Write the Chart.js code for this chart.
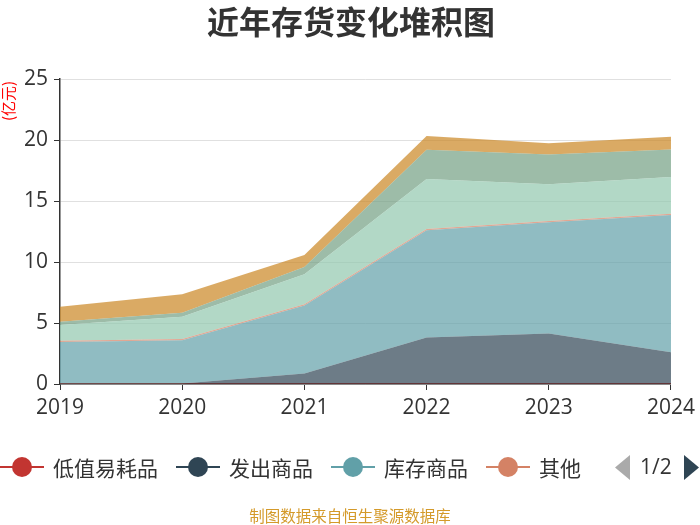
<!DOCTYPE html>
<html lang="zh">

<head>
  <meta charset="UTF-8">
  <title>近年存货变化堆积图</title>
  <script src="https://cdn.jsdelivr.net/npm/chart.js"></script>
  <style>
    body { margin: 0; background: #fff; }
    #wrap { width: 700px; height: 525px; position: relative; }
  </style>
</head>

<body>
  <div id="wrap">
    <canvas id="graphique" width="700" height="525"></canvas>
  </div>

  <script>
    // données (亿元)
    const annees = ['2019', '2020', '2021', '2022', '2023', '2024'];
    const diZhi = [0.05, 0.05, 0.05, 0.05, 0.05, 0.05];          // 低值易耗品
    const faChu = [0, 0, 0.82, 3.77, 4.08, 2.55];                 // 发出商品
    const kuCun = [3.4, 3.54, 5.56, 8.78, 9.13, 11.26];           // 库存商品
    const qiTa = [0.1, 0.1, 0.1, 0.1, 0.1, 0.1];                  // 其他
    const yuanCai = [1.29, 1.83, 2.46, 4.1, 3.01, 3.01];          // 原材料
    const zaiChan = [0.26, 0.33, 0.61, 2.4, 2.45, 2.26];          // 在产品
    const weiTuo = [1.24, 1.5, 0.97, 1.13, 0.91, 1.04];           // 委托加工物资
    const yTicks = [0, 5, 10, 15, 20, 25];

    const police = "'Noto Sans CJK SC', 'Noto Sans', sans-serif";
    const chiffres = "'Open Sans', 'Noto Sans', sans-serif";

    const series = [
      { label: '低值易耗品', data: diZhi, color: [194, 53, 49] },
      { label: '发出商品', data: faChu, color: [47, 69, 84] },
      { label: '库存商品', data: kuCun, color: [97, 160, 168] },
      { label: '其他', data: qiTa, color: [212, 130, 101] },
      { label: '原材料', data: yuanCai, color: [145, 199, 174] },
      { label: '在产品', data: zaiChan, color: [116, 159, 131] },
      { label: '委托加工物资', data: weiTuo, color: [202, 134, 34] }
    ];

    const rgba = (c, a) => `rgba(${c[0]},${c[1]},${c[2]},${a})`;

    const datasets = series.map((s, i) => ({
      label: s.label,
      data: s.data,
      backgroundColor: rgba(s.color, 0.7),
      borderColor: rgba(s.color, 1),
      borderWidth: 0,
      pointRadius: 0,
      tension: 0,
      fill: i === 0 ? 'origin' : '-1'
    }));

    // titre, unité, légende et source
    const decor = {
      id: 'decor',
      afterDraw(chart) {
        const c = chart.ctx;
        c.save();

        c.fillStyle = '#333';
        c.font = `bold 32px ${police}`;
        c.textAlign = 'center';
        c.textBaseline = 'middle';
        c.fillText('近年存货变化堆积图', 351, 22);

        c.save();
        c.translate(8, 101);
        c.rotate(-Math.PI / 2);
        c.fillStyle = '#ff0000';
        c.font = `15px ${police}`;
        c.fillText('(亿元)', 0, 0);
        c.restore();

        // légende page 1
        const items = [
          { x: 0, s: series[0] },
          { x: 176, s: series[1] },
          { x: 331, s: series[2] },
          { x: 486, s: series[3] }
        ];
        const ly = 467;
        c.textAlign = 'left';
        c.font = `21px ${police}`;
        items.forEach(it => {
          const col = rgba(it.s.color, 1);
          c.strokeStyle = col;
          c.lineWidth = 2;
          c.beginPath();
          c.moveTo(it.x, ly);
          c.lineTo(it.x + 44, ly);
          c.stroke();
          c.fillStyle = col;
          c.beginPath();
          c.arc(it.x + 22, ly, 10, 0, Math.PI * 2);
          c.fill();
          c.fillStyle = '#333';
          c.fillText(it.s.label, it.x + 53, ly + 1);
        });

        // pagination
        c.fillStyle = '#aaa';
        c.beginPath();
        c.moveTo(630, 455);
        c.lineTo(630, 480);
        c.lineTo(615, 467.5);
        c.closePath();
        c.fill();
        c.fillStyle = '#333';
        c.font = `21px ${chiffres}`;
        c.fillText('1/2', 640, ly + 1);
        c.fillStyle = '#2f4554';
        c.beginPath();
        c.moveTo(684, 455);
        c.lineTo(684, 480);
        c.lineTo(699, 467.5);
        c.closePath();
        c.fill();

        c.fillStyle = '#d49a2a';
        c.font = `15.5px ${police}`;
        c.textAlign = 'center';
        c.fillText('制图数据来自恒生聚源数据库', 350, 516);

        c.restore();
      }
    };

    const ctx = document.getElementById('graphique').getContext('2d');

    new Chart(ctx, {
      type: 'line',
      data: { labels: annees, datasets: datasets },
      options: {
        responsive: false,
        animation: false,
        layout: { padding: { left: 0, right: 28, top: 79, bottom: 0 } },
        plugins: {
          legend: { display: false },
          title: { display: false },
          tooltip: { enabled: false }
        },
        scales: {
          x: {
            offset: false,
            afterFit: s => { s.height = 141; },
            grid: { drawOnChartArea: false, drawTicks: true, tickLength: 6, tickColor: '#333' },
            border: { color: '#333', width: 1.5 },
            ticks: { color: '#333', font: { size: 21, family: chiffres }, padding: 5, maxRotation: 0 }
          },
          y: {
            stacked: true,
            min: 0,
            max: 25,
            afterFit: s => { s.width = 60; },
            afterBuildTicks: s => { s.ticks = yTicks.map(v => ({ value: v })); },
            grid: { color: '#e0e0e0', tickLength: 6, tickColor: '#333' },
            border: { color: '#333', width: 1.5 },
            ticks: { color: '#333', font: { size: 21, family: chiffres }, padding: 6 }
          }
        }
      },
      plugins: [decor]
    });
  </script>
</body>

</html>
